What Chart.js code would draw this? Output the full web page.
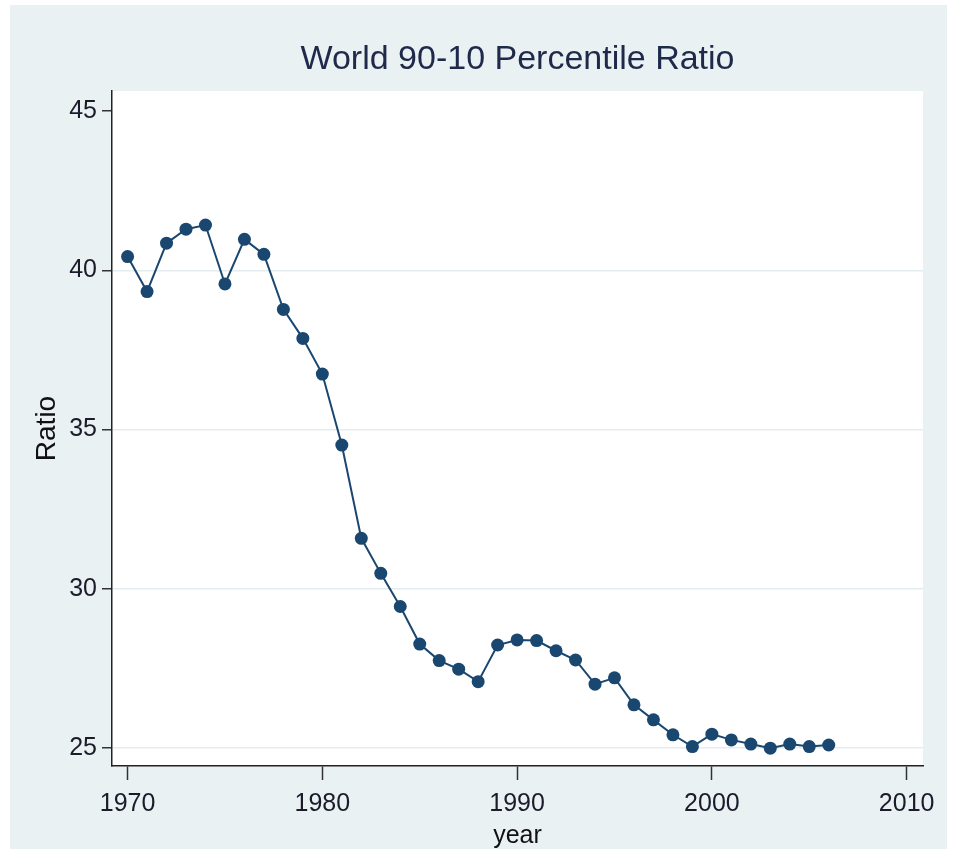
<!DOCTYPE html>
<html>
<head>
<meta charset="utf-8">
<script src="https://cdn.jsdelivr.net/npm/chart.js@4.4.1/dist/chart.umd.min.js"></script>
<style>
  html, body { margin: 0; padding: 0; background: #ffffff; }
  canvas { display: block; }
</style>
</head>
<body>
<canvas id="c" width="953" height="849"></canvas>
<script>
// ---- data ----
const years = [1970,1971,1972,1973,1974,1975,1976,1977,1978,1979,
               1980,1981,1982,1983,1984,1985,1986,1987,1988,1989,
               1990,1991,1992,1993,1994,1995,1996,1997,1998,1999,
               2000,2001,2002,2003,2004,2005,2006];
const ratio = [40.43,39.33,40.85,41.29,41.42,39.57,40.97,40.50,38.77,37.86,
               36.74,34.51,31.58,30.48,29.44,28.26,27.74,27.47,27.08,28.23,
               28.39,28.37,28.05,27.76,27.00,27.20,26.35,25.88,25.41,25.04,
               25.43,25.25,25.12,24.99,25.12,25.04,25.09];
const xTickValues = [1970,1980,1990,2000,2010];
const yTickValues = [25,30,35,40,45];
const titleText = 'World 90-10 Percentile Ratio';
const xTitle = 'year';
const yTitle = 'Ratio';

const NARROW = "'Liberation Sans Narrow', 'Arial Narrow', 'Liberation Sans', Arial, sans-serif";
const SANS = "'Liberation Sans', Arial, sans-serif";
const NAVY = '#1a476f';

const bgPlugin = {
  id: 'stataBg',
  beforeDraw(chart) {
    const ctx = chart.ctx, a = chart.chartArea;
    ctx.save();
    ctx.fillStyle = '#ffffff';
    ctx.fillRect(0, 0, chart.width, chart.height);
    ctx.fillStyle = '#e9f1f3';
    ctx.fillRect(10, 5, 937, chart.height - 5);
    ctx.fillStyle = '#ffffff';
    ctx.fillRect(a.left, a.top, a.right - a.left, a.bottom - a.top);
    ctx.restore();
  }
};

new Chart(document.getElementById('c'), {
  type: 'line',
  data: {
    datasets: [{
      data: years.map((y, i) => ({ x: y, y: ratio[i] })),
      borderColor: NAVY,
      backgroundColor: NAVY,
      borderWidth: 2,
      pointRadius: 6.5,
      pointBorderWidth: 0,
      pointBackgroundColor: NAVY,
      tension: 0,
      fill: false
    }]
  },
  options: {
    responsive: false,
    animation: false,
    events: [],
    layout: { padding: { left: 0, right: 30, top: 0, bottom: 0 } },
    plugins: {
      legend: { display: false },
      tooltip: { enabled: false },
      title: {
        display: true,
        text: titleText,
        fullSize: false,
        color: '#1f2a4a',
        font: { family: SANS, size: 34, weight: 'normal', lineHeight: 1.2 },
        padding: { top: 39.6, bottom: 10.6 }
      }
    },
    scales: {
      x: {
        type: 'linear',
        position: 'bottom',
        min: 1969.2,
        max: 2010.84,
        afterBuildTicks(scale) { scale.ticks = xTickValues.map(v => ({ value: v })); },
        afterFit(scale) { scale.height = 83; },
        grid: { drawOnChartArea: false, drawTicks: true, tickLength: 14, tickColor: '#333333', tickWidth: 1.5 },
        border: { display: true, color: '#222222', width: 1.5 },
        ticks: {
          padding: 9,
          color: '#1b1b2b',
          font: { family: NARROW, size: 25 },
          callback: v => String(v),
          maxRotation: 0,
          autoSkip: false
        },
        title: {
          display: true,
          text: xTitle,
          color: '#111111',
          font: { family: NARROW, size: 25, lineHeight: 1 },
          padding: { top: 0, bottom: 0 }
        }
      },
      y: {
        type: 'linear',
        position: 'left',
        min: 24.43,
        max: 45.63,
        afterBuildTicks(scale) { scale.ticks = yTickValues.map(v => ({ value: v })); },
        afterFit(scale) { scale.width = 112; },
        grid: {
          color: ctx => (ctx.tick && ctx.tick.value === 45) ? 'rgba(0,0,0,0)' : '#e3ecef',
          lineWidth: 1.5,
          drawTicks: true,
          tickLength: 10,
          tickColor: '#333333',
          tickWidth: 1.5
        },
        border: { display: true, color: '#222222', width: 1.5 },
        ticks: {
          padding: 5,
          color: '#1b1b2b',
          font: { family: NARROW, size: 25 },
          callback: v => String(v),
          autoSkip: false
        },
        title: {
          display: true,
          text: yTitle,
          color: '#111111',
          font: { family: SANS, size: 28, lineHeight: 1 },
          padding: { top: 33.5, bottom: 0 }
        }
      }
    }
  },
  plugins: [bgPlugin]
});
</script>
</body>
</html>
